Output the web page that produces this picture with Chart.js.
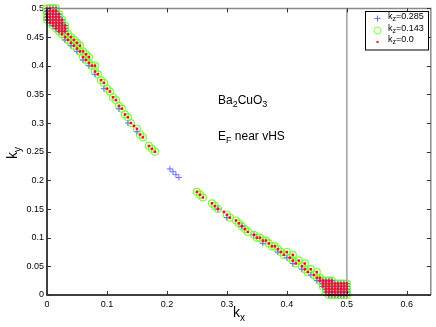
<!DOCTYPE html>
<html lang="en">
<head>
<meta charset="UTF-8">
<title>Ba2CuO3 Fermi surface</title>
<script src="https://cdn.jsdelivr.net/npm/chart.js@4"></script>
<style>
  * { margin: 0; padding: 0; }
  body { background: #fff; width: 436px; height: 327px; overflow: hidden; }
  #wrap { position: relative; width: 436px; height: 327px; }
</style>
</head>
<body>
<div id="wrap"><canvas id="fs"></canvas></div>
<script>
// ── Axes ────────────────────────────────────────────────────────────────────
const xTicks = [0, 0.1, 0.2, 0.3, 0.4, 0.5, 0.6];
const yTicks = [0, 0.05, 0.1, 0.15, 0.2, 0.25, 0.3, 0.35, 0.4, 0.45, 0.5];
const xMax = 0.64;
const yMax = 0.5;
const zoneEdge = 0.5;   // vertical line at kx = 0.5
const kzLabels = ['0.285', '0.143', '0.0'];

// ── Points (kx, ky) ─────────────────────────────────────────────────────────
// dense patch at the top-left corner
const cornerTL = [
  [0, .5], [.005, .5], [.01, .5], [.015, .5],
  [0, .495], [.005, .495], [.01, .495], [.015, .495],
  [0, .49], [.005, .49], [.01, .49], [.015, .49], [.02, .49],
  [0, .485], [.005, .485], [.01, .485], [.015, .485], [.02, .485],
  [0, .48], [.005, .48], [.01, .48], [.015, .48], [.02, .48], [.025, .48],
  [.005, .475], [.01, .475], [.015, .475], [.02, .475], [.025, .475],
  [.01, .47], [.015, .47], [.02, .47], [.025, .47], [.03, .47],
  [.015, .465], [.02, .465], [.025, .465], [.03, .465],
  [.02, .46], [.025, .46], [.03, .46]
];
// dense patch at the bottom-right corner
const cornerBR = [
  [.5, 0], [.5, .005], [.5, .01], [.5, .015], [.5, .02],
  [.495, 0], [.495, .005], [.495, .01], [.495, .015], [.495, .02],
  [.49, 0], [.49, .005], [.49, .01], [.49, .015], [.49, .02],
  [.485, 0], [.485, .005], [.485, .01], [.485, .015], [.485, .02],
  [.48, 0], [.48, .005], [.48, .01], [.48, .015], [.48, .02],
  [.475, 0], [.475, .005], [.475, .01], [.475, .015], [.475, .02], [.475, .025],
  [.47, 0], [.47, .005], [.47, .01], [.47, .015], [.47, .02], [.47, .025],
  [.465, .005], [.465, .01], [.465, .015], [.465, .02], [.465, .025],
  [.46, .015], [.46, .02], [.46, .025], [.455, .025]
];

// kz = 0.0 / 0.143 along the diagonal
const diagUpper = [
  [.025, .455], [.03, .45], [.035, .445], [.04, .44], [.045, .435], [.05, .43],
  [.055, .425], [.06, .415], [.065, .41], [.07, .405], [.075, .4], [.08, .39],
  [.085, .385], [.09, .375], [.095, .37], [.1, .36], [.105, .355], [.11, .345],
  [.115, .34], [.12, .33], [.125, .325], [.13, .315], [.135, .31], [.14, .3],
  [.15, .29], [.155, .28], [.16, .275], [.17, .26], [.175, .255], [.18, .25],
  // second row where the band is wider
  [.035, .455], [.04, .45], [.045, .445], [.05, .44], [.055, .435], [.06, .425],
  [.065, .42], [.07, .415], [.08, .4]
];
const diagLower = [
  [.25, .18], [.255, .175], [.26, .17], [.275, .16], [.28, .155], [.285, .15],
  [.3, .14], [.305, .135], [.315, .13], [.32, .125], [.325, .12], [.33, .115],
  [.335, .11], [.345, .105], [.35, .1], [.355, .1], [.36, .095], [.365, .095],
  [.37, .09], [.375, .085], [.38, .085], [.385, .08], [.39, .075], [.395, .07],
  [.405, .065], [.41, .06], [.415, .055], [.425, .05], [.43, .045], [.435, .04],
  [.445, .035], [.45, .03], [.455, .03],
  // second row where the band is wider
  [.4, .075], [.41, .07], [.42, .06], [.43, .055], [.44, .045], [.45, .04]
];
const kz0Only = [[.145, .295], [.295, .145]];

// kz = 0.285 crosses
const kz285Diag = [
  [.03, .445], [.04, .435], [.05, .425], [.06, .41], [.07, .4], [.08, .385],
  [.095, .36], [.12, .325], [.135, .3], [.15, .285],
  [.205, .22], [.21, .215], [.215, .21], [.22, .205],
  [.285, .15], [.3, .135], [.325, .12], [.345, .105], [.36, .09], [.385, .075],
  [.4, .065], [.41, .055], [.425, .045], [.44, .035], [.45, .025]
];

const kz0Pts = [...cornerTL, ...diagUpper, ...kz0Only, ...diagLower, ...cornerBR];
const kz143Pts = [...cornerTL, ...diagUpper, ...diagLower, ...cornerBR];
const kz285Pts = [...cornerTL, ...kz285Diag, ...cornerBR];

const BLUE = '#6a70ff';
const GREEN = '#78ff30';
const RED = '#ff0a2a';
const FONT = '"Liberation Sans", Arial, Helvetica, sans-serif';

const toXY = pts => pts.map(([x, y]) => ({ x, y }));

// draws runs of [text, size, dy] one after another, returns end x
function runText(ctx, x, y, parts) {
  for (const [t, size, dy] of parts) {
    ctx.font = size + 'px ' + FONT;
    ctx.fillText(t, x, y + dy);
    x += ctx.measureText(t).width;
  }
  return x;
}

function marker(ctx, kind, x, y) {
  ctx.save();
  if (kind === 0) {
    ctx.strokeStyle = BLUE; ctx.lineWidth = 1;
    ctx.beginPath();
    ctx.moveTo(x - 3, y); ctx.lineTo(x + 3, y);
    ctx.moveTo(x, y - 3); ctx.lineTo(x, y + 3);
    ctx.stroke();
  } else if (kind === 1) {
    ctx.strokeStyle = GREEN; ctx.lineWidth = 1;
    ctx.beginPath(); ctx.arc(x, y, 3.5, 0, Math.PI * 2); ctx.stroke();
  } else {
    ctx.fillStyle = RED;
    ctx.fillRect(x - 1, y - 1, 2, 2);
  }
  ctx.restore();
}

const framePlugin = {
  id: 'frame',
  beforeDatasetsDraw(chart) {
    const { ctx, chartArea: a, scales: { x } } = chart;
    const px = x.getPixelForValue(zoneEdge);
    ctx.save();
    ctx.strokeStyle = '#a0a0a0';
    ctx.lineWidth = 1.5;
    ctx.beginPath(); ctx.moveTo(px, a.top); ctx.lineTo(px, a.bottom); ctx.stroke();
    ctx.restore();
  },
  afterDraw(chart) {
    const { ctx, chartArea: a, scales: { x, y } } = chart;
    ctx.save();

    // box: top/right grey, left/bottom black
    ctx.lineWidth = 1.5;
    ctx.strokeStyle = '#8a8a8a';
    ctx.beginPath();
    ctx.moveTo(a.left, a.top); ctx.lineTo(a.right, a.top); ctx.lineTo(a.right, a.bottom);
    ctx.stroke();
    ctx.strokeStyle = '#000';
    ctx.beginPath();
    ctx.moveTo(a.left, a.top); ctx.lineTo(a.left, a.bottom); ctx.lineTo(a.right, a.bottom);
    ctx.stroke();

    // inward ticks on all four sides
    ctx.lineWidth = 1;
    ctx.strokeStyle = '#333';
    ctx.beginPath();
    for (const v of xTicks) {
      const px = Math.round(x.getPixelForValue(v)) + 0.5;
      ctx.moveTo(px, a.bottom); ctx.lineTo(px, a.bottom - 4);
      ctx.moveTo(px, a.top); ctx.lineTo(px, a.top + 4);
    }
    for (const v of yTicks) {
      const py = Math.round(y.getPixelForValue(v)) + 0.5;
      ctx.moveTo(a.left, py); ctx.lineTo(a.left + 4, py);
      ctx.moveTo(a.right, py); ctx.lineTo(a.right - 4, py);
    }
    ctx.stroke();

    // annotations
    ctx.fillStyle = '#000';
    ctx.textBaseline = 'alphabetic';
    ctx.textAlign = 'left';
    runText(ctx, 218, 104, [['Ba', 12, 0], ['2', 9, 3], ['CuO', 12, 0], ['3', 9, 3]]);
    runText(ctx, 218, 140, [['E', 12, 0], ['F', 9, 3], [' near vHS', 12, 0]]);

    // axis titles
    runText(ctx, 233, 317, [['k', 14, 0], ['x', 10, 4]]);
    ctx.save();
    ctx.translate(17, 159);
    ctx.rotate(-Math.PI / 2);
    runText(ctx, 0, 0, [['k', 14, 0], ['y', 10, 4]]);
    ctx.restore();

    // legend
    ctx.fillStyle = '#fff';
    ctx.fillRect(365, 11, 63, 39);
    ctx.strokeStyle = '#000';
    ctx.lineWidth = 1;
    ctx.strokeRect(365.5, 11.5, 63, 38.5);
    const rowY = [18.5, 30.5, 41.5];
    kzLabels.forEach((lab, i) => {
      marker(ctx, i, 377.5, rowY[i] + (i === 2 ? 0.5 : 0));
      ctx.fillStyle = '#000';
      runText(ctx, 388, rowY[i], [['k', 9, 0], ['z', 7, 2], ['=' + lab, 9, 0]]);
    });

    ctx.restore();
  }
};

new Chart(document.getElementById('fs'), {
  type: 'scatter',
  data: {
    datasets: [
      { label: 'kz=0.0', data: toXY(kz0Pts), order: 1, clip: false,
        pointStyle: 'rect', pointRadius: 1.8, pointBorderWidth: 0,
        backgroundColor: RED, borderColor: RED },
      { label: 'kz=0.285', data: toXY(kz285Pts), order: 2, clip: false,
        pointStyle: 'cross', pointRadius: 3, pointBorderWidth: 1,
        backgroundColor: BLUE, borderColor: BLUE },
      { label: 'kz=0.143', data: toXY(kz143Pts), order: 3, clip: false,
        pointStyle: 'circle', pointRadius: 3.5, pointBorderWidth: 1.2,
        backgroundColor: 'rgba(0,0,0,0)', borderColor: GREEN }
    ]
  },
  options: {
    responsive: true,
    maintainAspectRatio: false,
    animation: false,
    devicePixelRatio: 1,
    events: [],
    layout: { padding: { top: 8, right: 4, left: 0, bottom: 0 } },
    plugins: { legend: { display: false }, tooltip: { enabled: false } },
    scales: {
      x: {
        type: 'linear', min: 0, max: xMax,
        afterBuildTicks: s => { s.ticks = xTicks.map(v => ({ value: v })); },
        afterFit: s => { s.height = 32; },
        grid: { display: false, drawTicks: false },
        border: { display: false },
        ticks: { color: '#000', padding: 4, font: { family: FONT, size: 9 }, callback: v => String(v) }
      },
      y: {
        type: 'linear', min: 0, max: yMax,
        afterBuildTicks: s => { s.ticks = yTicks.map(v => ({ value: v })); },
        afterFit: s => { s.width = 47; },
        grid: { display: false, drawTicks: false },
        border: { display: false },
        ticks: { color: '#000', padding: 3, font: { family: FONT, size: 9 }, callback: v => String(v) }
      }
    }
  },
  plugins: [framePlugin]
});
</script>
</body>
</html>
